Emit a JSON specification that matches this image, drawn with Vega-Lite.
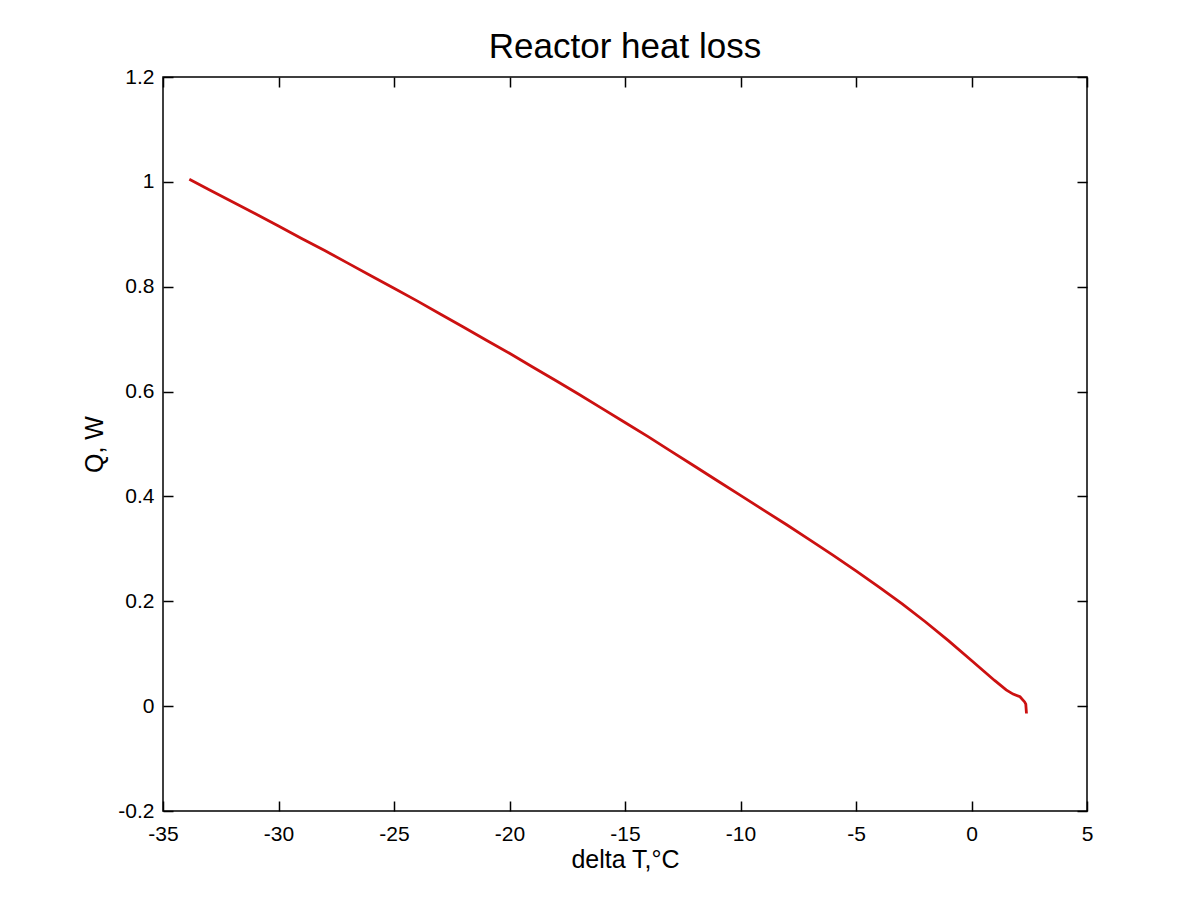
{
  "$schema": "https://vega.github.io/schema/vega-lite/v6.json",
  "width": 924,
  "height": 734,
  "autosize": {"type": "none"},
  "padding": {"left": 163, "top": 77, "right": 111, "bottom": 94},
  "background": "white",
  "title": {
    "text": "Reactor heat loss",
    "font": "Liberation Sans",
    "fontSize": 35,
    "fontWeight": "normal",
    "color": "#000",
    "anchor": "middle",
    "baseline": "bottom",
    "offset": -34
  },
  "config": {
    "view": {"stroke": "#000", "strokeWidth": 1.5},
    "axis": {
      "domain": false,
      "grid": false,
      "labelFlush": false,
      "tickColor": "#000",
      "tickSize": -10,
      "tickWidth": 1.5,
      "labelFont": "Liberation Sans",
      "labelFontSize": 21,
      "labelColor": "#000",
      "titleFont": "Liberation Sans",
      "titleFontSize": 25,
      "titleFontWeight": "normal",
      "titleColor": "#000"
    }
  },
  "data": {
    "values": [
      {"dT": -33.86, "Q": 1.005},
      {"dT": -33, "Q": 0.985},
      {"dT": -32, "Q": 0.962},
      {"dT": -31, "Q": 0.939},
      {"dT": -30, "Q": 0.916},
      {"dT": -29, "Q": 0.892},
      {"dT": -28, "Q": 0.869},
      {"dT": -27, "Q": 0.845},
      {"dT": -26, "Q": 0.821},
      {"dT": -25, "Q": 0.797},
      {"dT": -24, "Q": 0.773},
      {"dT": -23, "Q": 0.748},
      {"dT": -22, "Q": 0.723},
      {"dT": -21, "Q": 0.698},
      {"dT": -20, "Q": 0.673},
      {"dT": -19, "Q": 0.647},
      {"dT": -18, "Q": 0.621},
      {"dT": -17, "Q": 0.595},
      {"dT": -16, "Q": 0.568},
      {"dT": -15, "Q": 0.541},
      {"dT": -14, "Q": 0.514},
      {"dT": -13, "Q": 0.486},
      {"dT": -12, "Q": 0.458},
      {"dT": -11, "Q": 0.43},
      {"dT": -10, "Q": 0.402},
      {"dT": -9, "Q": 0.374},
      {"dT": -8, "Q": 0.346},
      {"dT": -7, "Q": 0.317},
      {"dT": -6, "Q": 0.288},
      {"dT": -5, "Q": 0.258},
      {"dT": -4, "Q": 0.227},
      {"dT": -3, "Q": 0.195},
      {"dT": -2, "Q": 0.161},
      {"dT": -1, "Q": 0.125},
      {"dT": 0, "Q": 0.087},
      {"dT": 0.5, "Q": 0.068},
      {"dT": 1.0, "Q": 0.049},
      {"dT": 1.5, "Q": 0.031},
      {"dT": 1.8, "Q": 0.023},
      {"dT": 2.1, "Q": 0.018},
      {"dT": 2.3, "Q": 0.008},
      {"dT": 2.35, "Q": 0.004},
      {"dT": 2.38, "Q": -0.014}
    ]
  },
  "layer": [
    {
      "mark": {"type": "line", "color": "#cc1111", "strokeWidth": 2.8, "interpolate": "linear"},
      "encoding": {
        "x": {
          "field": "dT", "type": "quantitative",
          "scale": {"domain": [-35, 5], "nice": false, "zero": false},
          "axis": {"title": "delta T,°C", "orient": "bottom", "values": [-35, -30, -25, -20, -15, -10, -5, 0, 5], "labelExpr": "'' + datum.value", "labelPadding": 22, "titlePadding": 3}
        },
        "y": {
          "field": "Q", "type": "quantitative",
          "scale": {"domain": [-0.2, 1.2], "nice": false, "zero": false},
          "axis": {"title": "Q, W", "orient": "left", "values": [-0.2, 0, 0.2, 0.4, 0.6, 0.8, 1, 1.2], "labelExpr": "'' + datum.value", "labelPadding": 19, "titlePadding": 10}
        }
      }
    },
    {
      "mark": {"type": "line", "strokeOpacity": 0},
      "encoding": {
        "x": {
          "field": "dT", "type": "quantitative",
          "axis": {"title": null, "orient": "top", "labels": false, "minExtent": 0, "maxExtent": 0, "values": [-35, -30, -25, -20, -15, -10, -5, 0, 5]}
        },
        "y": {
          "field": "Q", "type": "quantitative",
          "axis": {"title": null, "orient": "right", "labels": false, "minExtent": 0, "maxExtent": 0, "values": [-0.2, 0, 0.2, 0.4, 0.6, 0.8, 1, 1.2]}
        }
      }
    }
  ],
  "resolve": {"axis": {"x": "independent", "y": "independent"}}
}
